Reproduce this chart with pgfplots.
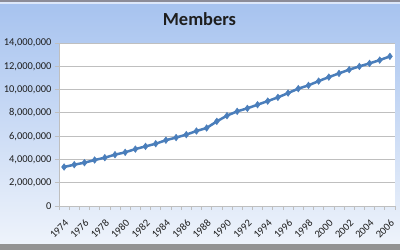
\documentclass[border=0pt]{standalone}
\usepackage{fontspec}
\setmainfont{Carlito}
\usepackage{pgfplots}
\pgfplotsset{compat=1.18}
\definecolor{bgtop}{HTML}{A7C3EF}
\definecolor{bgbot}{HTML}{EEF3FB}
\definecolor{series}{HTML}{4A7EBB}
\definecolor{gridc}{HTML}{BFBFBF}
\definecolor{txt}{HTML}{1E1E1E}
\definecolor{frame}{HTML}{8C8C98}
\begin{document}
\begin{tikzpicture}[x=1bp,y=1bp]
\useasboundingbox (0,0) rectangle (400,250);
\shade[top color=bgtop, bottom color=bgbot] (0,6) rectangle (400,246);
\fill[frame] (0,248) rectangle (400,250);
\fill[white!60!bgtop] (0,246) rectangle (400,248);
\fill[gray!85] (0,0) rectangle (400,6);
\node[font=\bfseries\fontsize{18.5}{20}\selectfont, text=txt] at (199.5,231) {Members};
\begin{axis}[
  at={(59bp,44bp)}, anchor=south west,
  scale only axis, width=336bp, height=163bp,
  xmin=-0.5, xmax=32.5, ymin=0, ymax=14000000,
  axis background/.style={fill=white},
  axis x line*=bottom, axis y line*=left,
  axis line style={gridc, line width=0.8bp},
  ytick={0,2000000,4000000,6000000,8000000,10000000,12000000,14000000},
  scaled y ticks=false,
  /pgf/number format/assume math mode=true,
  yticklabel style={/pgf/number format/fixed, /pgf/number format/1000 sep={,}, font=\fontsize{10.5}{12}\selectfont, text=txt},
  ymajorgrids, grid style={gridc, line width=0.8bp},
  tick align=outside, major tick length=4bp, minor tick length=4bp,
  tick style={gridc, line width=0.8bp},
  xtick={0,2,...,32},
  xticklabels={1974,1976,1978,1980,1982,1984,1986,1988,1990,1992,1994,1996,1998,2000,2002,2004,2006},
  x tick style={draw=none},
  minor xtick={-0.5,0.5,...,32.5},
  minor x tick style={draw=gridc, line width=0.8bp},
  xticklabel style={xshift=5bp, yshift=-9bp, rotate=45, anchor=east, font=\fontsize{10.5}{12}\selectfont, text=txt},
  clip=false,
]
\addplot[series, line width=2.5bp, mark=diamond*, mark size=3.3bp, mark options={fill=series, draw=series, line width=0.5bp}]
coordinates {
(0,3350000) (1,3550000) (2,3720000) (3,3950000) (4,4150000) (5,4410000)
(6,4610000) (7,4890000) (8,5120000) (9,5350000) (10,5650000) (11,5880000)
(12,6130000) (13,6440000) (14,6700000) (15,7270000) (16,7760000) (17,8130000)
(18,8390000) (19,8700000) (20,9010000) (21,9330000) (22,9700000) (23,10080000)
(24,10360000) (25,10730000) (26,11070000) (27,11390000) (28,11710000) (29,11990000)
(30,12250000) (31,12530000) (32,12850000)
};
\end{axis}
\end{tikzpicture}
\end{document}
